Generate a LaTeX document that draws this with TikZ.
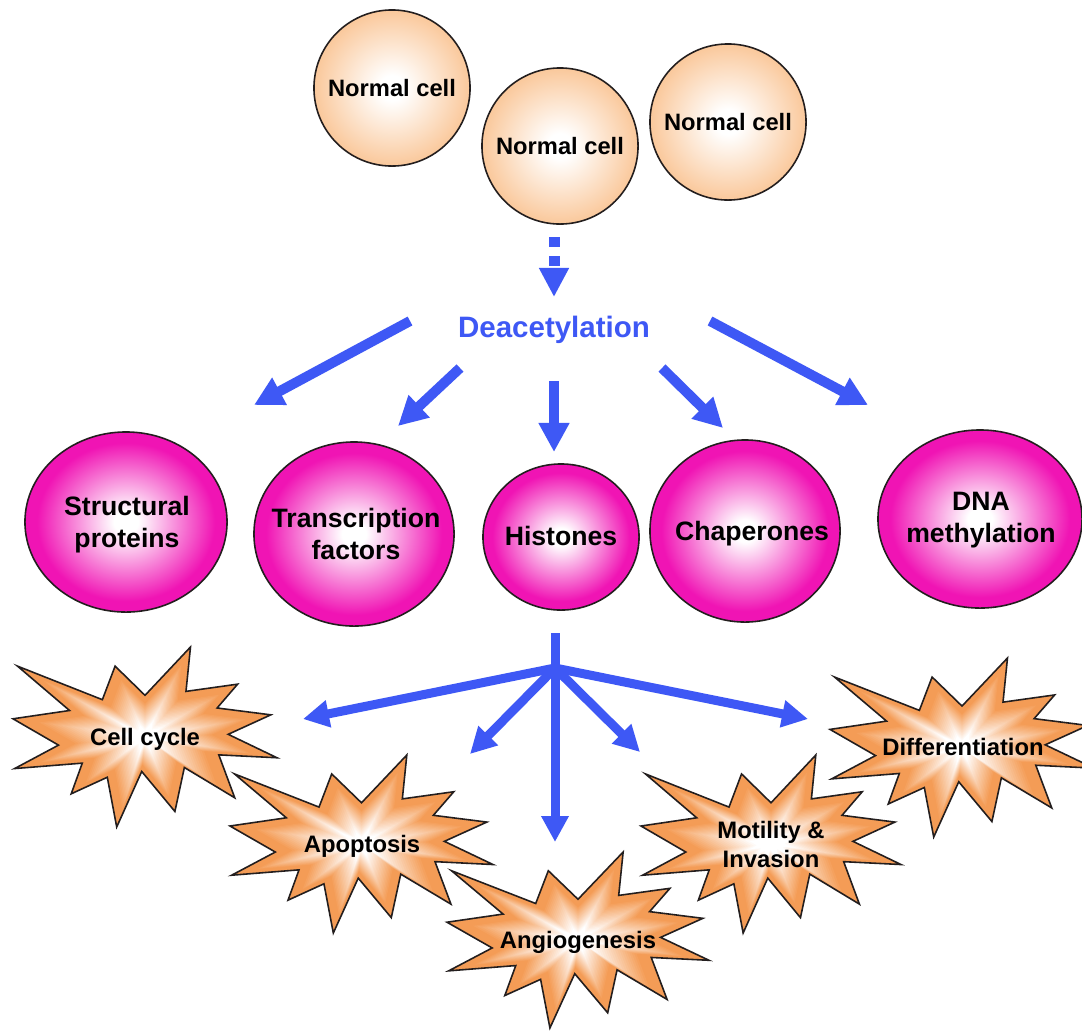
\documentclass[tikz,border=0pt]{standalone}
\usepackage{fontspec}
\setmainfont{Liberation Sans}
\usetikzlibrary{arrows.meta,shapes.geometric}

\definecolor{arrowblue}{RGB}{62,88,245}
\definecolor{pinkc}{RGB}{240,20,180}
\definecolor{peach}{RGB}{250,200,155}
\definecolor{burstorange}{RGB}{244,156,86}
\definecolor{edgegray}{RGB}{35,30,30}

\pgfdeclareradialshading{pinkball}{\pgfpoint{0bp}{0bp}}{color(0bp)=(white); color(3bp)=(white); color(22bp)=(pinkc); color(25bp)=(pinkc); color(50bp)=(pinkc)}
\pgfdeclareradialshading{peachball}{\pgfpoint{0bp}{0bp}}{color(0bp)=(white); color(4bp)=(white); color(25bp)=(peach); color(50bp)=(peach)}

% twelve-point explosion outline, normalised to a unit box around its centre
\newcommand{\burstpath}{(0,-0.2315) -- (0.1723,-0.5) -- (0.1553,-0.2535) -- (0.3509,-0.2937) -- (0.2732,-0.1613) -- (0.4767,-0.1233) -- (0.3151,-0.0150) -- (0.5,0.1153) -- (0.2795,0.0992) -- (0.3400,0.3377) -- (0.1491,0.1693) -- (0.1133,0.4137) -- (-0.0124,0.1914) -- (-0.1072,0.5) -- (-0.1428,0.2235) -- (-0.2795,0.3156) -- (-0.2376,0.1452) -- (-0.4938,0.1753) -- (-0.3277,0.0451) -- (-0.5,-0.1012) -- (-0.2858,-0.1474) -- (-0.4829,-0.3937) -- (-0.1615,-0.2074) -- (-0.1133,-0.3937) -- cycle}

% explosion with a white-centred gradient that follows its outline
\newcommand{\drawburst}[3]{%
  \begin{scope}[shift={#1}, xscale=#2, yscale=#3]
    \foreach \bstep in {0,...,29}{
      \pgfmathsetmacro\bsize{1-\bstep/30}
      \pgfmathsetmacro\bmix{max(0,min(100,150*\bsize-25))}
      \fill[burstorange!\bmix!white, scale=\bsize] \burstpath;
    }
    \draw[draw=edgegray, line width=0.45pt, line join=miter] \burstpath;
  \end{scope}}

\begin{document}
\begin{tikzpicture}[x=0.01cm, y=-0.01cm,
  cellball/.style={circle, minimum size=1.56cm, inner sep=0pt, draw=edgegray, line width=0.45pt,
    shade, shading=peachball, font=\fontsize{6.74}{8}\selectfont\bfseries},
  pinkball/.style={ellipse, inner sep=0pt, draw=edgegray, line width=0.45pt, shade, shading=pinkball},
  pinklabel/.style={align=center, inner sep=0pt, font=\fontsize{7.57}{9.1}\selectfont\bfseries},
  burstlabel/.style={align=center, inner sep=0pt, font=\fontsize{6.77}{8.25}\selectfont\bfseries},
  deaclabel/.style={text=arrowblue, inner sep=0pt, font=\fontsize{8.39}{10}\selectfont\bfseries},
  dasharrow/.style={draw=arrowblue, line width=0.11cm, dash pattern=on 0.1cm off 0.09cm,
    -{Triangle[width=0.28cm,length=0.29cm]}},
  bigarrow/.style={draw=arrowblue, line width=0.1cm, -{Triangle[width=0.29cm,length=0.29cm]}},
  fanline/.style={draw=arrowblue, line width=0.09cm},
  fanarrow/.style={draw=arrowblue, line width=0.09cm, line cap=round, -{Triangle[width=0.26cm,length=0.26cm]}}
]
\useasboundingbox (0,0) rectangle (1082,1030);
\fill[white] (0,0) rectangle (1082,1030);

% normal cells
\node[cellball] (cellA) at (392,88) {Normal cell};
\node[cellball] (cellB) at (560,146) {Normal cell};
\node[cellball] (cellC) at (728,122) {Normal cell};

% deacetylation
\node[deaclabel, anchor=base] (deac) at (554,337) {Deacetylation};
\coordinate (dashstart) at (554,237);
\coordinate (dashend) at (554,297);
\draw[dasharrow] (dashstart) -- (dashend);

% targets of deacetylation
\node[pinkball, minimum width=2.02cm, minimum height=1.80cm] (structball) at (126,522) {};
\node[pinkball, minimum width=2.00cm, minimum height=1.84cm] (transball) at (354,534) {};
\node[pinkball, minimum width=1.56cm, minimum height=1.46cm] (histball) at (561,537) {};
\node[pinkball, minimum width=1.90cm, minimum height=1.82cm] (chapball) at (745,531) {};
\node[pinkball, minimum width=2.04cm, minimum height=1.78cm] (dnaball) at (980,519) {};

\node[pinklabel] (structural) at (127,524.5) {Structural\\proteins};
\node[pinklabel] (transcription) at (356,534) {Transcription\\factors};
\node[pinklabel, anchor=base] (histones) at (561,545) {Histones};
\node[pinklabel, anchor=base] (chaperones) at (752,540) {Chaperones};
\node[pinklabel] (dnameth) at (981,520.5) {DNA\\methylation};

% arrows from deacetylation
\coordinate (up1s) at (410,321); \coordinate (up1e) at (254,405);
\coordinate (up2s) at (460,368); \coordinate (up2e) at (398,426);
\coordinate (up3s) at (554,381); \coordinate (up3e) at (554,452);
\coordinate (up4s) at (662,368); \coordinate (up4e) at (723,428);
\coordinate (up5s) at (710,321); \coordinate (up5e) at (868,405);
\draw[bigarrow] (up1s) -- (up1e);
\draw[bigarrow] (up2s) -- (up2e);
\draw[bigarrow] (up3s) -- (up3e);
\draw[bigarrow] (up4s) -- (up4e);
\draw[bigarrow] (up5s) -- (up5e);

% cellular outcomes
\drawburst{(145,737)}{264}{180}
\drawburst{(361.5,844)}{263}{178}
\drawburst{(578,940)}{262}{176}
\drawburst{(771,844)}{260}{178}
\drawburst{(962,747.5)}{264}{179}

\node[burstlabel, anchor=base] (cellcycle) at (145,745) {Cell cycle};
\node[burstlabel, anchor=base] (apoptosis) at (362,852) {Apoptosis};
\node[burstlabel, anchor=base] (angio) at (578,948) {Angiogenesis};
\node[burstlabel] (motility) at (771,844) {Motility \&\\Invasion};
\node[burstlabel, anchor=base] (differ) at (963,755) {Differentiation};

% fan of arrows below the histones
\coordinate (trunktop) at (555,633);
\coordinate (hub) at (555,668);
\coordinate (fan1) at (303,719);
\coordinate (fan2) at (470,754);
\coordinate (fan3) at (555,842);
\coordinate (fan4) at (640,752);
\coordinate (fan5) at (808,719);
\draw[fanline] (trunktop) -- (hub);
\draw[fanarrow] (hub) -- (fan1);
\draw[fanarrow] (hub) -- (fan2);
\draw[fanarrow] (hub) -- (fan3);
\draw[fanarrow] (hub) -- (fan4);
\draw[fanarrow] (hub) -- (fan5);
\end{tikzpicture}
\end{document}
